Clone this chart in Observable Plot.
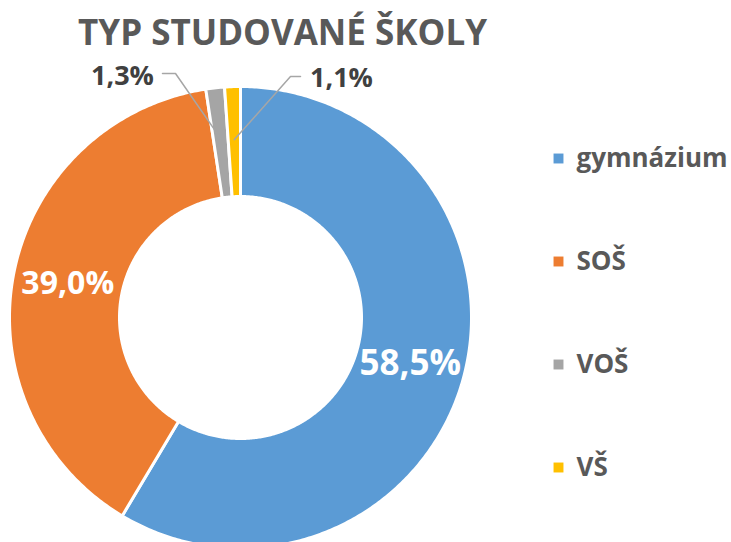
<!DOCTYPE html>
<html><head><meta charset="utf-8">
<script src="https://cdn.jsdelivr.net/npm/d3@7"></script>
<script src="https://cdn.jsdelivr.net/npm/@observablehq/plot@0.6"></script>
<style>body{margin:0;background:#fff}</style>
</head><body><div id="chart"></div>
<script>
const title = "TYP STUDOVANÉ ŠKOLY";
const categories = ["gymnázium", "SOŠ", "VOŠ", "VŠ"];
const values = [58.5, 39.0, 1.3, 1.1];
const valueLabels = ["58,5%", "39,0%", "1,3%", "1,1%"];
const colors = ["#5B9BD5", "#ED7D31", "#A5A5A5", "#FFC000"];

const W = 731, H = 542;
const cx = 240, cy = 317, R = 231, r0 = 121;
const font = "Open Sans";

const arcs = d3.pie().sort(null).value(d => d)(values);
function slicePoly(a) {
  const pts = [];
  const n = Math.max(4, Math.ceil((a.endAngle - a.startAngle) / 0.01));
  for (let i = 0; i <= n; i++) {
    const t = a.startAngle + (a.endAngle - a.startAngle) * i / n;
    pts.push({x: cx + R * Math.sin(t), y: cy - R * Math.cos(t)});
  }
  for (let i = n; i >= 0; i--) {
    const t = a.startAngle + (a.endAngle - a.startAngle) * i / n;
    pts.push({x: cx + r0 * Math.sin(t), y: cy - r0 * Math.cos(t)});
  }
  return pts;
}
const mid = a => (a.startAngle + a.endAngle) / 2;
const polar = (t, rr) => ({x: cx + rr * Math.sin(t), y: cy - rr * Math.cos(t)});

const sliceMarks = arcs.map((a, i) =>
  Plot.line(slicePoly(a), {x: "x", y: "y", fill: colors[i], stroke: "white", strokeWidth: 3, curve: "linear-closed"}));

const insideLabels = [0, 1].map(i => ({...polar(mid(arcs[i]), 176), label: valueLabels[i], size: i === 0 ? 35 : 32}));

const p2 = polar(mid(arcs[2]), 180), p3 = polar(mid(arcs[3]), 178);
const leader2 = [{x: 162, y: 73}, {x: 175, y: 73}, p2];
const leader3 = [{x: 300, y: 76}, {x: 290, y: 76}, p3];
const outsideLabels = [
  {x: 122, y: 76, label: valueLabels[2]},
  {x: 341, y: 78, label: valueLabels[3]}
];

const legend = categories.map((c, i) => ({c, color: colors[i], y: 158 + i * 103}));

const chart = Plot.plot({
  width: W, height: H,
  margin: 0,
  style: {fontFamily: font, background: "white"},
  x: {domain: [0, W], range: [0, W], axis: null},
  y: {domain: [0, H], range: [0, H], axis: null},
  marks: [
    ...sliceMarks,
    Plot.line(leader2, {x: "x", y: "y", stroke: "#A6A6A6", strokeWidth: 1.5}),
    Plot.line(leader3, {x: "x", y: "y", stroke: "#A6A6A6", strokeWidth: 1.5}),
    Plot.text(insideLabels, {x: "x", y: "y", text: "label", fill: "white", fontWeight: "bold", fontSize: d => d.size}),
    Plot.text(outsideLabels, {x: "x", y: "y", text: "label", fill: "#404040", fontWeight: "bold", fontSize: 27}),
    Plot.text([title], {frameAnchor: "top", dx: 282 - W / 2, dy: 20, text: d => d, fill: "#595959", fontWeight: "bold", fontSize: 35, lineAnchor: "top"}),
    Plot.dot(legend, {x: 558, y: "y", symbol: "square", r: 5.6, fill: d => d.color, stroke: null}),
    Plot.text(legend, {x: 576, y: "y", text: "c", textAnchor: "start", fill: "#595959", fontWeight: "bold", fontSize: 26})
  ]
});
document.getElementById("chart").appendChild(chart);
</script></body></html>
